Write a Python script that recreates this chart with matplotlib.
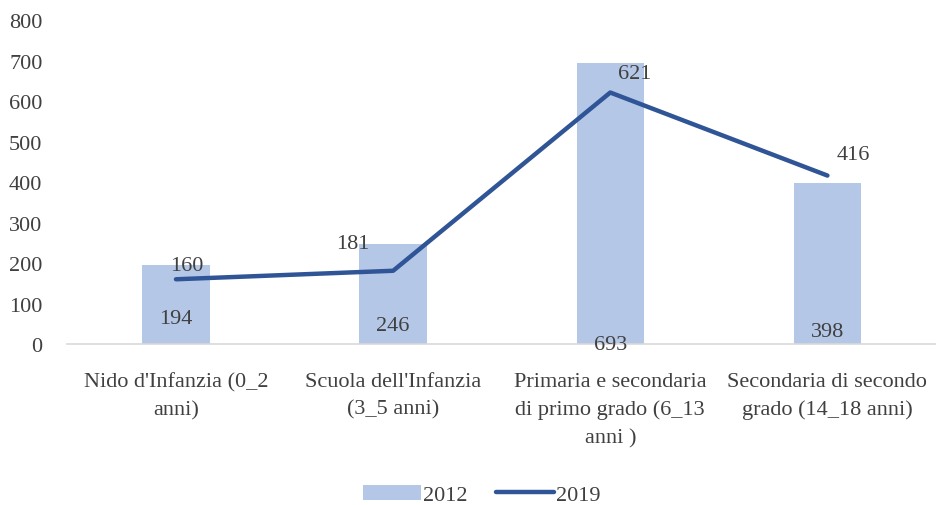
import matplotlib
matplotlib.use("Agg")
import matplotlib.pyplot as plt
import numpy as np

categories = ["Nido d'Infanzia (0_2\nanni)", "Scuola dell'Infanzia\n(3_5 anni)",
              "Primaria e secondaria\ndi primo grado (6_13\nanni )",
              "Secondaria di secondo\ngrado (14_18 anni)"]
values_2012 = [194, 246, 693, 398]
values_2019 = [160, 181, 621, 416]
yticks = [0, 100, 200, 300, 400, 500, 600, 700, 800]

plt.rcParams['font.family'] = ['Liberation Serif', 'DejaVu Serif']
txt = '#404040'
fs = 16
fig = plt.figure(figsize=(9.36, 5.06), dpi=100)
ax = fig.add_axes([0.072, 0.318, 0.928, 0.6405])
x = np.arange(len(categories))
bars = ax.bar(x, values_2012, width=0.31, color='#B4C7E7', label='2012', zorder=2)
line, = ax.plot(x, values_2019, color='#2F5597', lw=3.2, solid_capstyle='round', label='2019', zorder=3)
ax.set_xlim(-0.5, len(categories) - 0.5)
ax.set_ylim(0, 800)
ax.set_yticks(yticks)
ax.set_xticks(x)
ax.set_xticklabels(categories, linespacing=1.6)
ax.tick_params(axis='both', length=0, labelsize=fs, colors=txt)
ax.tick_params(axis='x', pad=20)
ax.tick_params(axis='y', pad=18)
for s in ['top', 'right', 'left']:
    ax.spines[s].set_visible(False)
ax.spines['bottom'].set_color('#D9D9D9')
ax.spines['bottom'].set_linewidth(1.2)

# bar labels
bar_label_y = [62, 47, 0, 32]
for xi, v, ly in zip(x, values_2012, bar_label_y):
    ax.text(xi, ly, str(v), ha='center', va='center', fontsize=fs, color=txt, zorder=4)
# line labels (offsets in pixels)
offs = [(11, 14), (-40, 27), (24, 19), (26, 21)]
for xi, v, (dx, dy) in zip(x, values_2019, offs):
    ax.annotate(str(v), (xi, v), xytext=(dx, dy), textcoords='offset pixels',
                ha='center', va='center', fontsize=fs, color=txt, zorder=4)

leg = fig.legend([bars, line], ['2012', '2019'], loc='center', bbox_to_anchor=(0.515, 0.02),
                 ncol=2, frameon=False, fontsize=fs, labelcolor=txt, handlelength=2.6,
                 handleheight=0.7, columnspacing=1.3, handletextpad=0.1)
for h in leg.legend_handles:
    if hasattr(h, 'set_solid_capstyle'):
        h.set_solid_capstyle('round')
fig.savefig('out.png', dpi=100)
